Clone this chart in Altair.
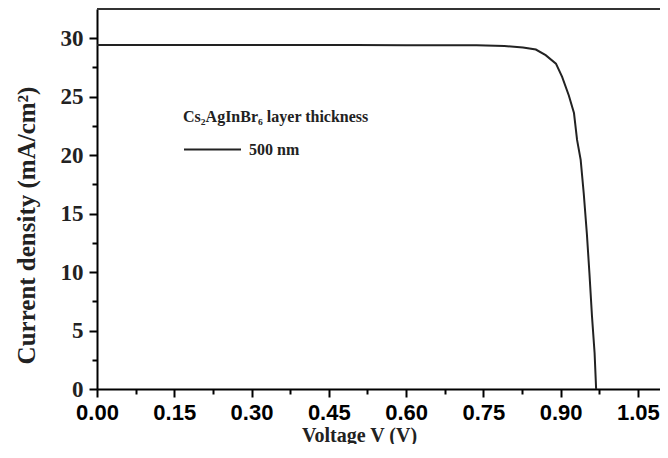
import altair as alt
import pandas as pd

voltage = [0.00, 0.10, 0.20, 0.30, 0.40, 0.50, 0.60, 0.70, 0.737, 0.791, 0.827,
           0.852, 0.871, 0.891, 0.903, 0.916, 0.926, 0.932, 0.939, 0.945, 0.951,
           0.956, 0.961, 0.966, 0.969]
current = [29.42, 29.42, 29.42, 29.42, 29.42, 29.42, 29.41, 29.41, 29.40, 29.34, 29.2,
           29.03, 28.55, 27.83, 26.7, 25.1, 23.6, 21.3, 19.6, 16.7, 13.3,
           9.9, 6.2, 3.1, 0.0]
series_name = "500 nm"
legend_title = "Cs₂AgInBr₆ layer thickness"
x_ticks = [round(i * 0.075, 3) for i in range(15)]
y_ticks = [i * 2.5 for i in range(13)]

df = pd.DataFrame({"V": voltage, "J": current, "s": [series_name] * len(voltage)})

W, H = 563, 380
major_x = "abs(round(datum.value/0.15)*0.15 - datum.value) < 1e-6"
major_y = "abs(round(datum.value/5)*5 - datum.value) < 1e-6"

line = alt.Chart(df).mark_line(strokeWidth=2, clip=True).encode(
    x=alt.X("V:Q", scale=alt.Scale(domain=[0, 1.093], nice=False, zero=False),
            axis=alt.Axis(values=x_ticks, title="Voltage V (V)",
                          labelExpr=f"{major_x} ? format(datum.value, '.2f') : ''",
                          labelFont="Liberation Sans", labelFontWeight="bold",
                          labelFontSize=22, labelColor="black", labelPadding=5,
                          labelOverlap=False, labelFlush=False,
                          tickSize={"condition": {"test": major_x, "value": 8}, "value": 5},
                          tickWidth=2, tickColor="black", domainColor="black", domainWidth=2,
                          grid=False, titleFont="Liberation Serif", titleFontWeight="bold",
                          titleFontSize=20, titleColor="#222", titleX=262, titleY=52,
                          titleBaseline="alphabetic", titleAlign="center")),
    y=alt.Y("J:Q", scale=alt.Scale(domain=[0, 32.5], nice=False),
            axis=alt.Axis(values=y_ticks, title="Current density (mA/cm²)",
                          labelExpr=f"{major_y} ? format(datum.value, 'd') : ''",
                          labelFont="Liberation Serif", labelFontWeight="bold",
                          labelFontSize=23, labelColor="#222", labelPadding=6,
                          labelOverlap=False,
                          tickSize={"condition": {"test": major_y, "value": 8}, "value": 5},
                          tickWidth=2, tickColor="black", domainColor="black", domainWidth=2,
                          grid=False, titleFont="Liberation Serif", titleFontWeight="bold",
                          titleFontSize=25, titleColor="#222", titleAngle=270,
                          titleX=-63, titleY=216, titleBaseline="alphabetic",
                          titleAlign="center")),
    color=alt.Color("s:N", scale=alt.Scale(range=["#222222"]),
                    legend=alt.Legend(title=legend_title, orient="none",
                                      legendX=86, legendY=100, padding=0,
                                      symbolType="stroke", symbolSize=3249,
                                      symbolStrokeWidth=2, symbolOffset=0,
                                      labelOffset=7, titlePadding=-5, titleLimit=0,
                                      titleFont="Liberation Serif", titleFontWeight="bold",
                                      titleFontSize=16, titleColor="#222",
                                      labelFont="Liberation Serif", labelFontWeight="bold",
                                      labelFontSize=16, labelColor="#222")),
)

top_frame = alt.Chart(pd.DataFrame({"a": [0]})).mark_rule(color="#333", strokeWidth=2).encode(
    x=alt.value(0), x2=alt.value(W), y=alt.value(0)
)

chart = alt.layer(line, top_frame).properties(
    width=W, height=H,
    autosize=alt.AutoSizeParams(type="none"),
    padding={"left": 89, "top": 1, "right": 0, "bottom": 55},
).configure_view(stroke="#bbbbbb", strokeWidth=1).configure(background="white")

chart.save("out.html", embed_options={"renderer": "svg", "actions": False})
